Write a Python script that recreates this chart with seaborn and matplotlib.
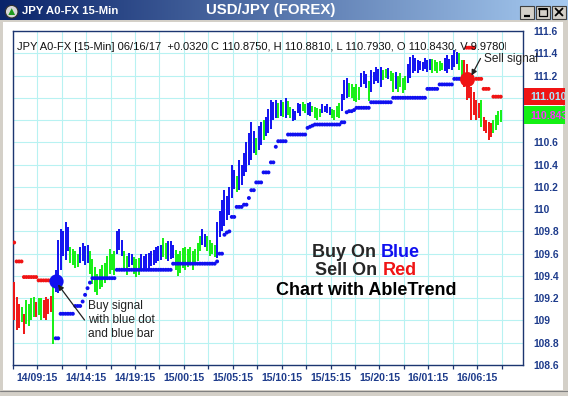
import numpy as np
import pandas as pd
import matplotlib
matplotlib.use("Agg")
import matplotlib.pyplot as plt
import seaborn as sns
from matplotlib.patches import Rectangle, Circle, Polygon
from matplotlib.colors import LinearSegmentedColormap

# ---------------- data ----------------
bar_high = [
    109.35, 109.21, 109.15, 109.12, 109.06, 109.18, 109.15, 109.20, 109.21, 109.17,
    109.20, 109.20, 109.18, 109.21, 109.19, 109.22, 109.32, 109.45, 109.72, 109.82,
    109.80, 109.88, 109.84, 109.66, 109.64, 109.62, 109.60, 109.66, 109.70, 109.67,
    109.68, 109.62, 109.55, 109.48, 109.42, 109.46, 109.50, 109.52, 109.58, 109.64,
    109.60, 109.62, 109.80, 109.82, 109.72, 109.62, 109.58, 109.61, 109.60, 109.57,
    109.55, 109.56, 109.60, 109.58, 109.60, 109.61, 109.62, 109.63, 109.66, 109.67,
    109.68, 109.74, 109.70, 109.71, 109.71, 109.68, 109.63, 109.60, 109.62, 109.65,
    109.66, 109.64, 109.66, 109.62, 109.64, 109.70, 109.76, 109.82, 109.78, 109.76,
    109.72, 109.70, 109.68, 109.88, 109.98, 110.08, 110.17, 110.12, 110.20, 110.40,
    110.35, 110.30, 110.44, 110.40, 110.50, 110.60, 110.68, 110.78, 110.70, 110.64,
    110.75, 110.78, 110.80, 110.83, 110.90, 110.98, 110.96, 110.98, 110.95, 110.98,
    110.96, 111.00, 110.97, 110.92, 110.90, 110.88, 110.95, 110.94, 110.96, 110.94,
    110.95, 110.96, 110.93, 110.92, 110.91, 110.90, 110.94, 110.93, 110.94, 110.92,
    110.90, 110.89, 110.93, 110.95, 111.03, 111.16, 111.18, 111.13, 111.12, 111.10,
    111.12, 111.10, 111.22, 111.24, 111.21, 111.15, 111.25, 111.23, 111.28, 111.26,
    111.28, 111.25, 111.26, 111.27, 111.24, 111.22, 111.23, 111.20, 111.22, 111.18,
    111.20, 111.30, 111.37, 111.38, 111.36, 111.34, 111.33, 111.32, 111.36, 111.34,
    111.35, 111.35, 111.34, 111.32, 111.33, 111.31, 111.36, 111.38, 111.35, 111.38,
    111.43, 111.41, 111.40, 111.34, 111.34, 111.30, 111.22, 111.10, 111.05, 110.98,
    110.95, 110.98, 110.83, 110.80, 110.78, 110.77, 110.80, 110.85, 110.88, 110.89,
]
bar_low = [
    109.00, 108.91, 108.93, 108.99, 108.88, 108.97, 108.95, 109.00, 109.03, 109.03,
    109.05, 109.00, 109.02, 109.00, 109.06, 109.08, 108.79, 109.26, 109.25, 109.45,
    109.58, 109.54, 109.62, 109.52, 109.50, 109.47, 109.48, 109.52, 109.53, 109.50,
    109.52, 109.42, 109.33, 109.26, 109.23, 109.28, 109.30, 109.34, 109.38, 109.42,
    109.45, 109.41, 109.60, 109.63, 109.58, 109.45, 109.41, 109.48, 109.50, 109.42,
    109.39, 109.41, 109.46, 109.45, 109.47, 109.46, 109.49, 109.50, 109.52, 109.53,
    109.54, 109.57, 109.55, 109.53, 109.55, 109.56, 109.45, 109.40, 109.43, 109.47,
    109.45, 109.48, 109.50, 109.45, 109.50, 109.53, 109.62, 109.68, 109.66, 109.62,
    109.58, 109.60, 109.57, 109.56, 109.75, 109.80, 109.85, 109.90, 109.95, 110.10,
    110.18, 110.15, 110.17, 110.22, 110.30, 110.33, 110.40, 110.44, 110.50, 110.49,
    110.53, 110.58, 110.62, 110.66, 110.68, 110.72, 110.80, 110.82, 110.82, 110.84,
    110.83, 110.82, 110.85, 110.82, 110.79, 110.80, 110.86, 110.84, 110.88, 110.86,
    110.85, 110.84, 110.87, 110.82, 110.80, 110.83, 110.86, 110.87, 110.86, 110.85,
    110.82, 110.80, 110.83, 110.82, 110.88, 110.98, 111.00, 111.01, 111.00, 110.97,
    110.96, 110.98, 111.10, 111.12, 111.09, 110.97, 111.05, 111.12, 111.15, 111.13,
    111.10, 111.16, 111.18, 111.17, 111.15, 111.05, 111.08, 111.05, 111.10, 111.04,
    111.07, 111.13, 111.18, 111.22, 111.24, 111.22, 111.25, 111.24, 111.26, 111.23,
    111.25, 111.22, 111.24, 111.22, 111.24, 111.25, 111.24, 111.22, 111.26, 111.25,
    111.28, 111.30, 111.25, 111.19, 111.10, 110.98, 111.00, 110.80, 110.85, 110.80,
    110.82, 110.74, 110.70, 110.68, 110.62, 110.65, 110.68, 110.71, 110.76, 110.78,
]
bar_color = (
    "rrrgrggggr" "ggrrrrgbbb" "bbbggggbbb" "bggggggggg" "ggbbbggbbg"
    "ggbbbbbbbb" "bggbbbgggg" "gggggggbbg" "gggbbbbbbb" "bgbbbbbbbg"
    "bbgbbbbbgb" "gbggbbbbgg" "bbggggbbbb" "ggggbbbggg" "ggbbbgbbbb"
    "bggbggbggg" "gbbbbbbbbb" "bgggggbbbb" "bbggrrrrrr" "rgrrrrgggg"
)
stop_level = [
    109.70, 109.53, 109.53, 109.53, 109.39, 109.39, 109.39, 109.39, 109.39, 109.39,
    109.36, 109.36, 109.36, 109.36, 109.36, 109.36, 109.36, 108.84, 108.84, 109.06,
    109.06, 109.06, 109.06, 109.06, 109.06, 109.13, 109.13, 109.13, 109.17, 109.23,
    109.29, 109.34, 109.38, 109.38, 109.38, 109.38, 109.38, 109.38, 109.38, 109.38,
    109.38, 109.38, 109.455, 109.455, 109.455, 109.455, 109.455, 109.455, 109.455, 109.455,
    109.455, 109.455, 109.455, 109.455, 109.455, 109.455, 109.455, 109.455, 109.455, 109.455,
    109.455, 109.455, 109.455, 109.455, 109.455, 109.51, 109.51, 109.51, 109.51, 109.51,
    109.51, 109.51, 109.51, 109.51, 109.51, 109.51, 109.51, 109.51, 109.51, 109.51,
    109.51, 109.51, 109.51, 109.53, 109.60, 109.60, 109.77, 109.79, 109.80, 109.93,
    109.93, 110.02, 110.02, 110.02, 110.04, 110.04, 110.10, 110.17, 110.17, 110.24,
    110.24, 110.24, 110.33, 110.33, 110.33, 110.42, 110.42, 110.56, 110.61, 110.61,
    110.61, 110.61, 110.67, 110.67, 110.67, 110.67, 110.67, 110.67, 110.67, 110.67,
    110.73, 110.74, 110.75, 110.76, 110.76, 110.76, 110.76, 110.76, 110.76, 110.76,
    110.76, 110.76, 110.76, 110.76, 110.78, 110.78, 110.87, 110.88, 110.88, 110.89,
    110.91, 110.91, 110.91, 110.91, 110.91, 110.91, 110.96, 110.96, 110.96, 110.96,
    110.96, 110.96, 110.96, 110.96, 110.96, 111.00, 111.00, 111.00, 111.00, 111.00,
    111.00, 111.00, 111.00, 111.00, 111.00, 111.00, 111.00, 111.00, 111.00, 111.08,
    111.08, 111.08, 111.08, 111.08, 111.12, 111.12, 111.12, 111.12, 111.12, 111.12,
    111.17, 111.17, 111.17, 111.17, 111.17, 111.45, 111.45, 111.45, 111.45, 111.17,
    111.17, 111.17, 111.08, 111.08, 111.08, np.nan, 111.01, 111.01, 111.01, 111.01,
]
buy_bar, buy_price = 17, 109.357
sell_bar, sell_price = 185, 111.166
last_stop_label = 111.010
last_price_label = 110.843
y_ticks = [111.6, 111.4, 111.2, 111.0, 110.8, 110.6, 110.4, 110.2, 110.0,
           109.8, 109.6, 109.4, 109.2, 109.0, 108.8, 108.6]
# 111 and 110.8 are hidden under the last-value boxes in the original
y_tick_labels = ["111.6", "111.4", "111.2", "", "", "110.6", "110.4", "110.2",
                 "110", "109.8", "109.6", "109.4", "109.2", "109", "108.8", "108.6"]
time_labels = ["14/09:15", "14/14:15", "14/19:15", "15/00:15", "15/05:15",
               "15/10:15", "15/15:15", "15/20:15", "16/01:15", "16/06:15"]
header = ("JPY A0-FX [15-Min] 06/16/17  +0.0320 C 110.8750, H 110.8810, "
          "L 110.7930, O 110.8430, V 9.9780K")

# ---------------- style ----------------
W, H = 568, 396
AX_L, AX_R, AX_T, AX_B = 12.7, 523.0, 31.0, 365.0
BLUE, GREEN, RED = "#1010f0", "#14f014", "#f01414"
AXIS_BLUE = "#1e3c8c"
palette = {"r": RED, "g": GREEN, "b": BLUE}

sns.set_theme(style="white")
plt.rcParams["font.family"] = ["Liberation Sans", "DejaVu Sans"]

fig = plt.figure(figsize=(W / 100, H / 100), dpi=100, facecolor="#d4d0c8")

# background layer (window chrome)
bg = fig.add_axes([0, 0, 1, 1], zorder=-2)
bg.axis("off")
bg.add_patch(Rectangle((3, 22), 560, 368, facecolor="white", edgecolor="none"))
cmap = LinearSegmentedColormap.from_list("tb", ["#0a246a", "#a6caf0"])
bg.imshow(np.linspace(0, 1, 256)[None, :], extent=(0, W, 20, 0), aspect="auto", cmap=cmap)
bg.add_patch(Rectangle((0, 390), W, 6, facecolor="#d4d0c8", edgecolor="none"))
bg.plot([0, W], [390.5, 390.5], color="#808080", lw=0.8)
bg.set_xlim(0, W)
bg.set_ylim(H, 0)

# ---------------- main chart ----------------
ax = fig.add_axes([AX_L / W, 1 - AX_B / H, (AX_R - AX_L) / W, (AX_B - AX_T) / H])
ax.set_facecolor("white")
N = len(bar_high)
xpos = np.arange(N) + 0.6

ax.vlines(xpos, bar_low, bar_high, colors=[palette[c] for c in bar_color],
          linewidth=1.4, zorder=3)

idx = np.arange(N)
side = np.where((idx >= buy_bar) & (idx < sell_bar), "b", "r")
df_stop = pd.DataFrame({"x": xpos, "y": stop_level, "side": side}).dropna()
sns.scatterplot(data=df_stop, x="x", y="y", hue="side", palette={"b": BLUE, "r": RED},
                s=8, linewidth=0, legend=False, ax=ax, zorder=4)
ax.scatter([buy_bar + 0.6], [buy_price], s=105, color=BLUE, linewidth=0, zorder=5)
ax.scatter([sell_bar + 0.6], [sell_price], s=115, color=RED, linewidth=0, zorder=5)

ax.set_xlim(0, 208.7)
ax.set_ylim(108.6, 111.6)
ticks = np.arange(0, 201, 10)
ax.set_xticks(ticks)
ax.set_xticklabels([time_labels[k // 2] if k % 2 == 1 else "" for k in range(len(ticks))])
ax.set_yticks(y_ticks)
ax.set_yticklabels(y_tick_labels)
ax.yaxis.tick_right()
ax.set_xlabel("")
ax.set_ylabel("")
ax.grid(True, color="#b8f2f2", linewidth=0.8)
ax.set_axisbelow(True)
for sp in ax.spines.values():
    sp.set_color("#1c3570")
    sp.set_linewidth(1.0)
ax.tick_params(axis="x", direction="out", length=3, width=0.9, color="#1c3570",
               labelsize=7.6, labelcolor=AXIS_BLUE, pad=3, bottom=True)
ax.tick_params(axis="y", length=0, pad=7.2, labelsize=7.4, labelcolor=AXIS_BLUE,
               right=True, left=False)
for lbl in ax.get_xticklabels() + ax.get_yticklabels():
    lbl.set_fontweight("bold")

# ---------------- overlay (texts, boxes, chrome) ----------------
ov = fig.add_axes([0, 0, 1, 1], zorder=5)
ov.set_xlim(0, W)
ov.set_ylim(H, 0)
ov.axis("off")
ov.patch.set_alpha(0)


def ypx(v):
    return AX_T + (111.6 - v) / 3.0 * (AX_B - AX_T)


for val, fc, tc in [(last_stop_label, RED, "#a8e8ff"), (last_price_label, GREEN, "#ff30ff")]:
    yc = ypx(val)
    box = Rectangle((524, yc - 8.8), 41, 17.6, facecolor=fc, edgecolor="none")
    ov.add_patch(box)
    t = ov.text(530, yc + 0.3, f"{val:.3f}", color=tc, fontsize=7.6, fontweight="bold",
                ha="left", va="center", clip_on=True)
    t.set_clip_path(box)

hclip = Rectangle((12.7, 31), 493.5, 30, transform=ov.transData)
th = ov.text(17.4, 46.5, header, fontsize=8.0, color="#111111", ha="left", va="center",
             clip_on=True)
th.set_clip_path(hclip)

# title bar
ov.text(22.5, 10.8, "JPY A0-FX 15-Min", color="white", fontsize=8.2, fontweight="bold",
        ha="left", va="center")
ov.text(270.5, 10.0, "USD/JPY (FOREX)", color="white", fontsize=10.8, fontweight="bold",
        ha="center", va="center")
ov.add_patch(Circle((11.7, 11.7), 6.3, facecolor="#d8d8d8", edgecolor="#303030", lw=0.8))
ov.add_patch(Polygon([(8.3, 15.0), (15.1, 15.0), (11.7, 8.2)], closed=True,
                     facecolor="#1e9a1e", edgecolor="none"))
for x0 in (519.5, 535.5, 551.5):
    ov.add_patch(Rectangle((x0, 5.5), 14.5, 13, facecolor="#d4d0c8", edgecolor="#404040", lw=0.8))
ov.plot([523.5, 530], [15.5, 15.5], color="black", lw=1.6, solid_capstyle="butt")
ov.add_patch(Rectangle((539, 8.5), 8, 7.5, facecolor="none", edgecolor="black", lw=0.9))
ov.plot([539, 547], [9, 9], color="black", lw=1.5)
ov.plot([555.5, 562.5], [8.5, 15.5], color="black", lw=1.3)
ov.plot([555.5, 562.5], [15.5, 8.5], color="black", lw=1.3)

# annotations
arrow = dict(arrowstyle="-|>", color="#202020", lw=0.9, mutation_scale=8, shrinkA=0, shrinkB=0)
ov.annotate("", xy=(58, 284.5), xytext=(84.5, 320), arrowprops=arrow)
for line, yb in [("Buy signal", 309.3), ("with blue dot", 323.3), ("and blue bar", 337.3)]:
    ov.text(88, yb, line, fontsize=8.6, color="#202020", ha="left", va="baseline")
ov.annotate("", xy=(471.5, 75.5), xytext=(480.5, 58.5), arrowprops=arrow)
ov.text(483.5, 62, "Sell signal", fontsize=8.6, color="#202020", ha="left", va="baseline")

renderer = fig.canvas.get_renderer()


def mixed_line(black_part, color_part, color, xc, yb):
    full = ov.text(xc, yb, black_part + " " + color_part, fontsize=13, fontweight="bold",
                   ha="center", va="baseline")
    bb = full.get_window_extent(renderer)
    x0 = xc - bb.width / 2
    full.set_text(black_part)
    full.set_ha("left")
    full.set_x(x0)
    ov.text(x0 + bb.width, yb, color_part, fontsize=13, fontweight="bold", color=color,
            ha="right", va="baseline")


mixed_line("Buy On", "Blue", BLUE, 365.5, 256.7)
mixed_line("Sell On", "Red", RED, 366, 275)
ov.text(366.5, 295, "Chart with AbleTrend", fontsize=13, fontweight="bold", color="black",
        ha="center", va="baseline")

fig.savefig("out.png", dpi=100, facecolor=fig.get_facecolor())
